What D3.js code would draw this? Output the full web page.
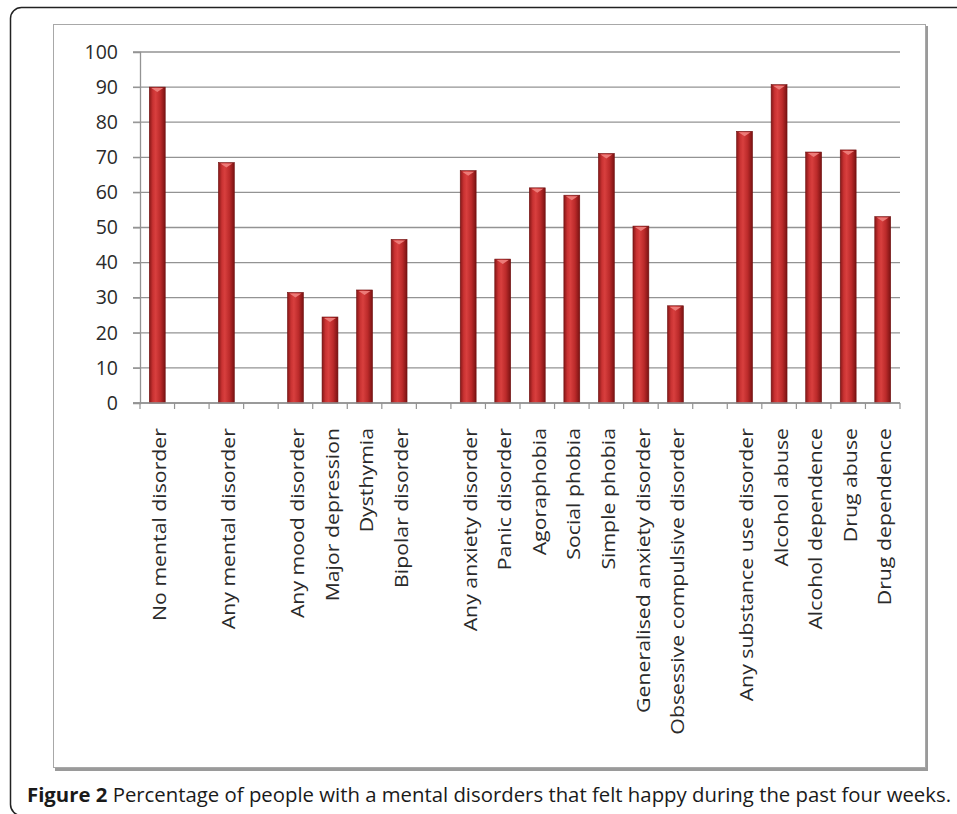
<!DOCTYPE html>
<html>
<head>
<meta charset="utf-8">
<script src="https://cdn.jsdelivr.net/npm/d3@7"></script>
<style>
  body { margin: 0; background: #fff; }
  svg { display: block; }
</style>
</head>
<body>
<div id="chart"></div>
<script>
// categories, in the order they sit on the x axis
var categories = [
  "No mental disorder",
  "Any mental disorder",
  "Any mood disorder", "Major depression", "Dysthymia", "Bipolar disorder",
  "Any anxiety disorder", "Panic disorder", "Agoraphobia", "Social phobia",
  "Simple phobia", "Generalised anxiety disorder", "Obsessive compulsive disorder",
  "Any substance use disorder", "Alcohol abuse", "Alcohol dependence",
  "Drug abuse", "Drug dependence"
];
// % that felt happy during the past four weeks
var values = [
  90.0,
  68.5,
  31.5, 24.5, 32.2, 46.6,
  66.2, 41.0, 61.3, 59.2, 71.1, 50.4, 27.7,
  77.4, 90.7, 71.5, 72.1, 53.1
];
// how many categories in each group (an empty slot goes between groups)
var groupSizes = [1, 1, 4, 7, 5];
var yTicks = [0, 10, 20, 30, 40, 50, 60, 70, 80, 90, 100];
var captionBold = "Figure 2";
var captionText = " Percentage of people with a mental disorders that felt happy during the past four weeks.";

var width = 957, height = 814;
var plot = {left: 140, right: 900, top: 52, bottom: 403};

// build slots, with a blank spacer between groups
var slots = [], data = [], k = 0;
groupSizes.forEach(function(n, gi) {
  if (gi > 0) slots.push("gap" + gi);
  for (var i = 0; i < n; i++, k++) {
    slots.push(categories[k]);
    data.push({name: categories[k], value: values[k]});
  }
});

var svg = d3.select("#chart").append("svg")
  .attr("width", width).attr("height", height);

var defs = svg.append("defs");
var grad = defs.append("linearGradient").attr("id", "barGrad")
  .attr("x1", "0%").attr("x2", "100%").attr("y1", "0%").attr("y2", "0%");
[["0%", "#861717"], ["22%", "#c93232"], ["40%", "#d83f3e"], ["70%", "#bb2a2a"], ["100%", "#7a1212"]]
  .forEach(function(s) { grad.append("stop").attr("offset", s[0]).attr("stop-color", s[1]); });

// outer figure frame
svg.append("rect")
  .attr("x", 10.5).attr("y", 7.5).attr("width", 990).attr("height", 808)
  .attr("rx", 11).attr("fill", "none").attr("stroke", "#222").attr("stroke-width", 1.5);

// chart box with a little shadow
svg.append("rect")
  .attr("x", 55).attr("y", 26).attr("width", 873).attr("height", 745)
  .attr("fill", "#9a9a9a");
svg.append("rect")
  .attr("x", 53.5).attr("y", 24.5).attr("width", 872).attr("height", 743)
  .attr("fill", "#fff").attr("stroke", "#a8a8a8").attr("stroke-width", 1);

var x = d3.scaleBand().domain(slots).range([plot.left, plot.right]).padding(0);
var y = d3.scaleLinear().domain([0, 100]).range([plot.bottom, plot.top]);

var g = svg.append("g");

// gridlines
g.selectAll("line.grid")
  .data(yTicks)
  .enter().append("line")
  .attr("class", "grid")
  .attr("x1", plot.left - 7).attr("x2", plot.right)
  .attr("y1", function(d) { return y(d); })
  .attr("y2", function(d) { return y(d); })
  .attr("stroke", "#939393").attr("stroke-width", 1.3);

// y axis
var yAxis = g.append("g")
  .attr("transform", "translate(" + plot.left + ",0)")
  .call(d3.axisLeft(y).tickValues(yTicks).tickSize(7).tickPadding(15));
yAxis.select(".domain").attr("stroke", "#939393").attr("stroke-width", 1.3);
yAxis.selectAll(".tick line").attr("stroke", "#939393");
yAxis.selectAll("text")
  .attr("font-family", "Open Sans").attr("font-size", "19.5px").attr("fill", "#2a2a2a");

// bars
var bw = x.bandwidth() * 0.46;
var bars = g.selectAll("g.bar")
  .data(data)
  .enter().append("g").attr("class", "bar");

bars.append("rect")
  .attr("x", function(d) { return x(d.name) + (x.bandwidth() - bw) / 2; })
  .attr("y", function(d) { return y(d.value); })
  .attr("width", bw)
  .attr("height", function(d) { return y(0) - y(d.value); })
  .attr("fill", "url(#barGrad)")
  .attr("stroke", "#6e1010").attr("stroke-width", 0.6);

// little lighter cap on each bar top
bars.append("path")
  .attr("d", function(d) {
    var cx = x(d.name) + x.bandwidth() / 2, ty = y(d.value);
    return "M" + (cx - bw / 2 + 2) + "," + (ty + 1) + "L" + (cx + bw / 2 - 2) + "," + (ty + 1) +
      "L" + cx + "," + (ty + 5) + "Z";
  })
  .attr("fill", "#ec7b78");

// x axis line and ticks at the slot edges
var xAxis = g.append("g").attr("transform", "translate(0," + plot.bottom + ")");
xAxis.append("line")
  .attr("x1", plot.left - 7).attr("x2", plot.right)
  .attr("stroke", "#939393").attr("stroke-width", 1.3);
var edges = slots.map(function(s) { return x(s); }).concat([plot.right]);
xAxis.selectAll("line.tk")
  .data(edges)
  .enter().append("line").attr("class", "tk")
  .attr("x1", function(d) { return d; }).attr("x2", function(d) { return d; })
  .attr("y1", 0).attr("y2", 6)
  .attr("stroke", "#939393").attr("stroke-width", 1.2);

// category labels, rotated (a bit stretched along the text like the original)
xAxis.selectAll("text.lbl")
  .data(data)
  .enter().append("text").attr("class", "lbl")
  .attr("transform", function(d) {
    return "translate(" + (x(d.name) + x.bandwidth() / 2 + 2) + ",25) rotate(-90) scale(1.12,1)";
  })
  .attr("x", 0).attr("y", 0).attr("dy", "0.35em")
  .attr("text-anchor", "end")
  .attr("font-family", "Open Sans").attr("font-size", "19px").attr("fill", "#2a2a2a")
  .text(function(d) { return d.name; });

// caption
var cap = svg.append("text")
  .attr("x", 27).attr("y", 802)
  .attr("font-family", "Open Sans").attr("font-size", "20px").attr("fill", "#1a1a1a")
  .attr("textLength", 924).attr("lengthAdjust", "spacingAndGlyphs");
cap.append("tspan").attr("font-weight", "bold").text(captionBold);
cap.append("tspan").text(captionText);
</script>
</body>
</html>
